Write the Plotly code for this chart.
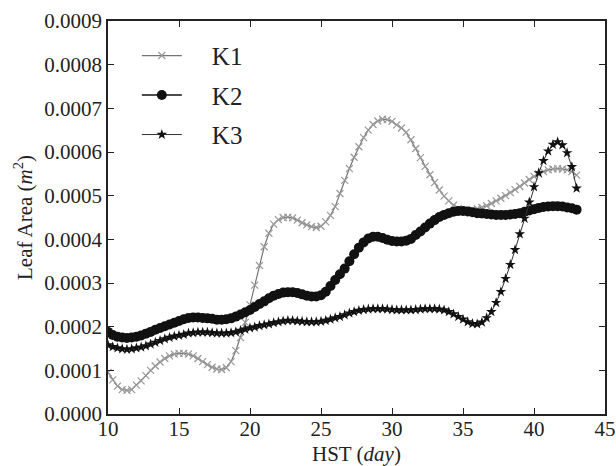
import plotly.graph_objects as go

# x positions: every 1/3 day from 10 to 43 (100 samples)
hst_day = [10 + i / 3 for i in range(100)]

# Leaf area values (units of 1e-4 m^2), 3 per day
k1_e4 = [
    0.95, 0.78, 0.64,  0.56, 0.54, 0.56,  0.66, 0.76, 0.88,  1.00, 1.10, 1.19,
    1.27, 1.33, 1.37,  1.39, 1.39, 1.37,  1.33, 1.27, 1.20,  1.13, 1.07, 1.03,
    1.02, 1.06, 1.20,  1.45, 1.75, 2.10,  2.50, 2.95, 3.40,  3.83, 4.14, 4.35,
    4.45, 4.50, 4.51,  4.49, 4.44, 4.38,  4.33, 4.29, 4.27,  4.30, 4.40, 4.55,
    4.75, 5.05, 5.35,  5.62, 5.88, 6.12,  6.33, 6.50, 6.63,  6.71, 6.75, 6.74,
    6.70, 6.62, 6.55,  6.45, 6.28, 6.08,  5.87, 5.67, 5.48,  5.30, 5.13, 4.99,
    4.88, 4.78, 4.71,  4.67, 4.66, 4.67,  4.70, 4.73, 4.77,  4.82, 4.88, 4.94,
    5.00, 5.07, 5.14,  5.21, 5.29, 5.37,  5.44, 5.50, 5.55,  5.59, 5.61, 5.62,
    5.61, 5.59, 5.55,  5.47,
]
k2_e4 = [
    1.88, 1.81, 1.77,  1.75, 1.74, 1.75,  1.77, 1.80, 1.84,  1.88, 1.93, 1.97,
    2.01, 2.05, 2.09,  2.13, 2.17, 2.20,  2.21, 2.21, 2.20,  2.19, 2.18, 2.16,
    2.16, 2.17, 2.19,  2.23, 2.28, 2.33,  2.38, 2.45, 2.52,  2.58, 2.65, 2.71,
    2.75, 2.78, 2.79,  2.79, 2.77, 2.74,  2.71, 2.69, 2.69,  2.72, 2.80, 2.93,
    3.07, 3.20, 3.33,  3.50, 3.66, 3.81,  3.93, 4.02, 4.06,  4.06, 4.03, 3.99,
    3.96, 3.95, 3.95,  3.97, 4.01, 4.10,  4.18, 4.27, 4.36,  4.44, 4.51, 4.56,
    4.60, 4.63, 4.65,  4.65, 4.64, 4.62,  4.60, 4.59, 4.58,  4.57, 4.56, 4.56,
    4.56, 4.57, 4.58,  4.60, 4.63, 4.66,  4.69, 4.72, 4.74,  4.75, 4.76, 4.76,
    4.75, 4.73, 4.71,  4.68,
]
k3_e4 = [
    1.58, 1.54, 1.51,  1.49, 1.48, 1.49,  1.51, 1.53, 1.56,  1.60, 1.64, 1.68,
    1.72, 1.75, 1.78,  1.80, 1.82, 1.85,  1.86, 1.87, 1.87,  1.87, 1.86, 1.85,
    1.85, 1.85, 1.86,  1.88, 1.91, 1.94,  1.97, 1.99, 2.02,  2.04, 2.06, 2.09,
    2.11, 2.13, 2.14,  2.14, 2.13, 2.12,  2.11, 2.11, 2.11,  2.12, 2.14, 2.17,
    2.20, 2.23, 2.27,  2.31, 2.34, 2.37,  2.39, 2.40, 2.41,  2.41, 2.41, 2.40,
    2.39, 2.38, 2.38,  2.38, 2.38, 2.39,  2.40, 2.41, 2.41,  2.41, 2.40, 2.38,
    2.34, 2.29, 2.23,  2.17, 2.11, 2.07,  2.06, 2.10, 2.20,  2.34, 2.55, 2.80,
    3.10, 3.42, 3.76,  4.12, 4.48, 4.85,  5.20, 5.52, 5.80,  6.02, 6.17, 6.23,
    6.16, 5.98, 5.66,  5.17,
]

x_ticks = [10, 15, 20, 25, 30, 35, 40, 45]
y_ticks = [0.0000, 0.0001, 0.0002, 0.0003, 0.0004, 0.0005, 0.0006, 0.0007, 0.0008, 0.0009]
y_tick_labels = ["0.0000", "0.0001", "0.0002", "0.0003", "0.0004",
                 "0.0005", "0.0006", "0.0007", "0.0008", "0.0009"]
series_names = ["K1", "K2", "K3"]

k1 = [v * 1e-4 for v in k1_e4]
k2 = [v * 1e-4 for v in k2_e4]
k3 = [v * 1e-4 for v in k3_e4]

FONT = "Liberation Serif"
TXT = "#222222"
GAP = "\u00a0" * 4

fig = go.Figure()
fig.add_trace(go.Scatter(
    x=hst_day, y=k1, name=GAP + series_names[0], mode="lines+markers", legendgroup="a",
    line=dict(color="#757575", width=1.2),
    marker=dict(symbol="x-thin", size=7, line=dict(color="#999999", width=1.2)),
))
fig.add_trace(go.Scatter(
    x=hst_day, y=k2, name=GAP + series_names[1], mode="lines+markers", legendgroup="b",
    line=dict(color="#111111", width=1.5),
    marker=dict(symbol="circle", size=10, color="#111111"),
))
fig.add_trace(go.Scatter(
    x=hst_day, y=k3, name=GAP + series_names[2], mode="lines+markers", legendgroup="c",
    line=dict(color="#333333", width=1),
    marker=dict(symbol="star", size=8, color="#111111"),
))

axis_common = dict(
    showline=True, linecolor=TXT, linewidth=1.5, mirror="ticks",
    ticks="inside", ticklen=6, tickcolor=TXT, tickwidth=1,
    showgrid=False, zeroline=False, automargin=False,
    tickfont=dict(family=FONT, size=21, color=TXT),
)

fig.update_xaxes(
    range=[10, 45], tickvals=x_ticks, ticktext=[str(t) for t in x_ticks],
    ticklabelstandoff=-5,
    **axis_common,
)
fig.update_yaxes(
    range=[0, 0.0009], tickvals=y_ticks, ticktext=y_tick_labels,
    **axis_common,
)

fig.add_annotation(
    text="HST (<i>day</i>)", xref="paper", yref="paper", x=0.5, y=-0.103,
    xanchor="center", yanchor="middle", showarrow=False,
    font=dict(family=FONT, size=21, color=TXT),
)
fig.add_annotation(
    text="Leaf Area (<i>m</i><sup>2</sup>)", xref="paper", yref="paper",
    x=-0.17, y=0.5, xanchor="center", yanchor="middle", textangle=-90,
    showarrow=False, font=dict(family=FONT, size=21, color=TXT),
)

fig.update_layout(
    width=616, height=466,
    margin=dict(l=108, r=11, t=21, b=52),
    paper_bgcolor="white", plot_bgcolor="white",
    showlegend=True,
    legend=dict(
        x=0.058, y=0.97, xanchor="left", yanchor="top",
        font=dict(family=FONT, size=25, color=TXT),
        bgcolor="rgba(0,0,0,0)", tracegroupgap=4, itemwidth=40,
    ),
)

fig.write_html(
    "out.html",
    config={"displayModeBar": False},
    post_script="document.body.style.margin='0';document.body.style.overflow='hidden';",
)
